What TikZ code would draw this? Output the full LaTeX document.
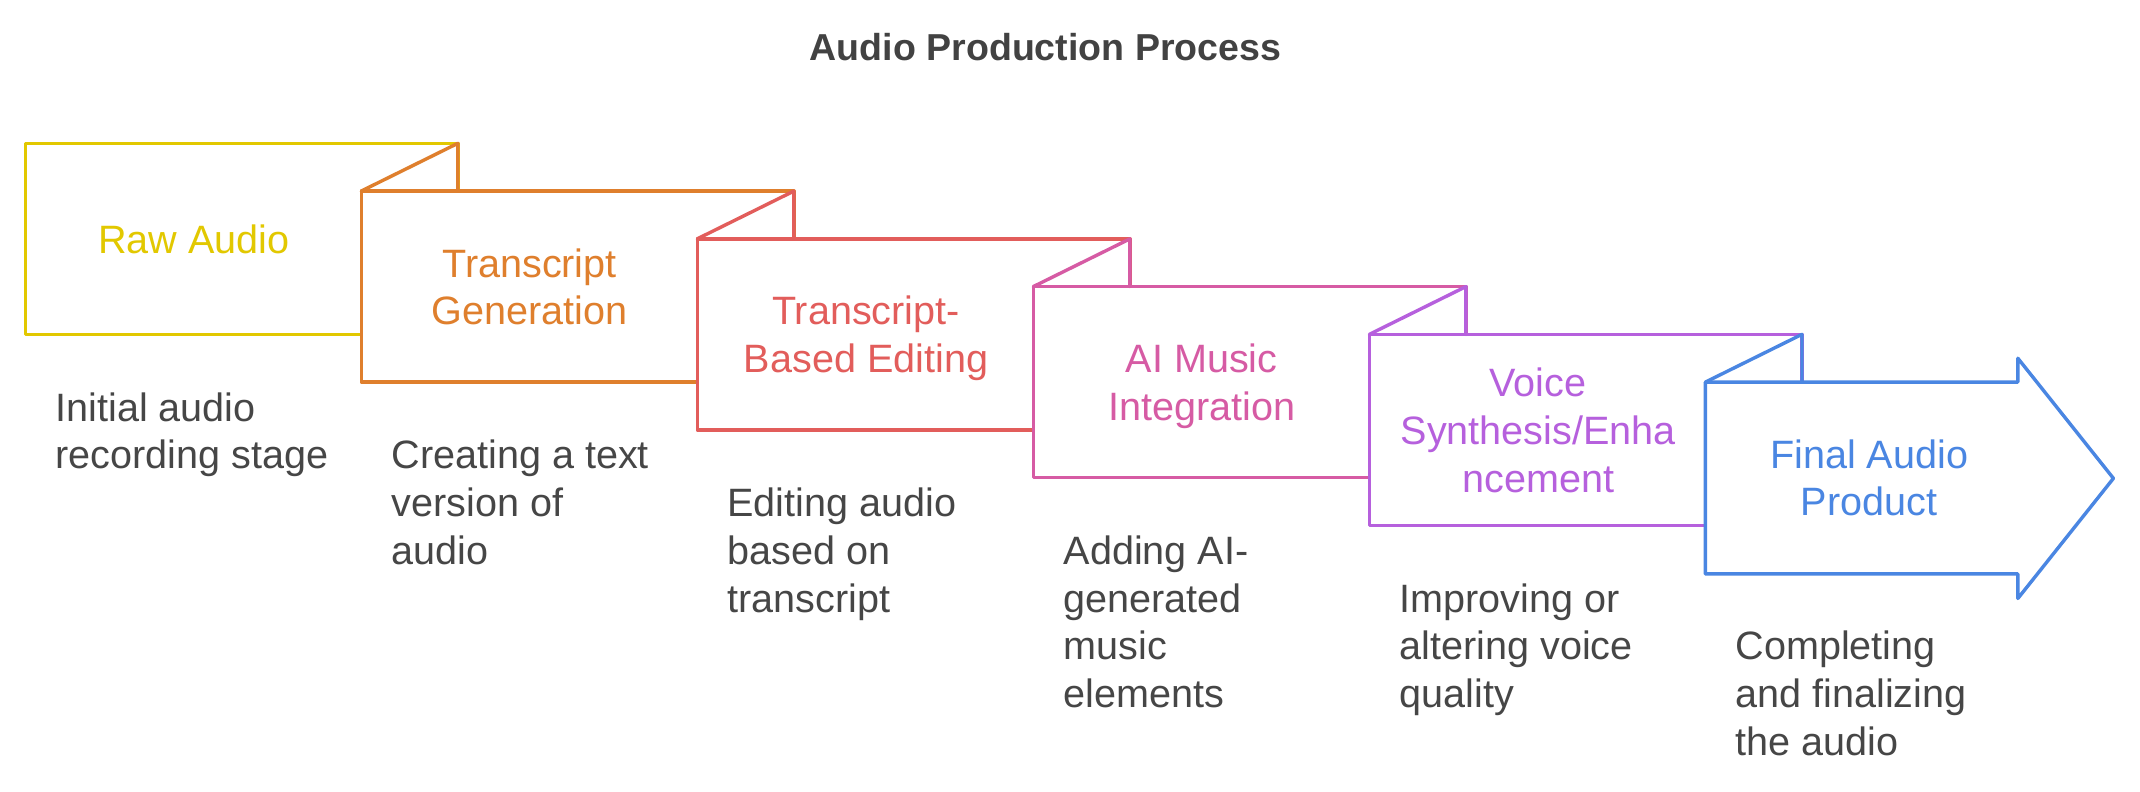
\documentclass[tikz,border=0pt]{standalone}
\usepackage{fontspec}
\setmainfont{Liberation Sans}
\definecolor{cyel}{HTML}{E2C800}
\definecolor{cora}{HTML}{DF7F2D}
\definecolor{cred}{HTML}{E25D5B}
\definecolor{cpnk}{HTML}{D65BA4}
\definecolor{cpur}{HTML}{B660DD}
\definecolor{cblu}{HTML}{4A86E2}
\definecolor{descgray}{HTML}{464646}
\definecolor{titlegray}{HTML}{424242}
\begin{document}
\begin{tikzpicture}[x=1pt,y=-1pt,
  box/.style={rectangle, line width=2.5pt, line join=round, fill=white, minimum width=317pt, minimum height=140pt, inner sep=0pt, outer sep=0pt, anchor=north west},
  fold/.style={line width=2.5pt, line join=round, line cap=round},
  lbl/.style={font=\fontsize{29}{35}\selectfont, inner sep=0pt, anchor=base},
  desc/.style={font=\fontsize{29}{35}\selectfont, text=descgray, inner sep=0pt, anchor=base west},
  ttl/.style={font=\fontsize{27.5}{33}\selectfont\bfseries, text=titlegray, inner sep=0pt, anchor=base}]
\useasboundingbox (0,0) rectangle (1568,580.3);

% title
\node[ttl] (title) at (766,44) {Audio Production Process};

% boxes
\node[box, draw=cyel] (b0) at (18.5,105) {};
\node[box, draw=cora] (b1) at (264.7,140) {};
\draw[fold, cora] (b1.north west) -- (b0.north east) -- (b0.north east |- b1.north);
\node[box, draw=cred] (b2) at (510.9,175) {};
\draw[fold, cred] (b2.north west) -- (b1.north east) -- (b1.north east |- b2.north);
\node[box, draw=cpnk] (b3) at (757.1,210) {};
\draw[fold, cpnk] (b3.north west) -- (b2.north east) -- (b2.north east |- b3.north);
\node[box, draw=cpur] (b4) at (1003.3,245) {};
\draw[fold, cpur] (b4.north west) -- (b3.north east) -- (b3.north east |- b4.north);

% final arrow
\coordinate (a0) at (1249.5,280);
\coordinate (a1) at (1478.5,280);
\coordinate (a2) at (1478.5,262.5);
\coordinate (a3) at (1548.5,350.5);
\coordinate (a4) at (1478.5,438.5);
\coordinate (a5) at (1478.5,420.5);
\coordinate (a6) at (1249.5,420.5);
\draw[fold, cblu, fill=white, line cap=butt] (a0) -- (a1) -- (a2) -- (a3) -- (a4) -- (a5) -- (a6) -- cycle;
\draw[fold, cblu] (a0) -- (b4.north east) -- (b4.north east |- a0);

% labels
\node[lbl, text=cyel] (l0) at (142,185.5) {Raw Audio};
\node[lbl, text=cora] (l1a) at (388,203) {Transcript};
\node[lbl, text=cora] (l1b) at (388,238) {Generation};
\node[lbl, text=cred] (l2a) at (634.5,238) {Transcript-};
\node[lbl, text=cred] (l2b) at (634.5,273) {Based Editing};
\node[lbl, text=cpnk] (l3a) at (880.5,273) {AI Music};
\node[lbl, text=cpnk] (l3b) at (880.5,308) {Integration};
\node[lbl, text=cpur] (l4a) at (1127,290.5) {Voice};
\node[lbl, text=cpur] (l4b) at (1127,325.5) {Synthesis/Enha};
\node[lbl, text=cpur] (l4c) at (1127,360.5) {ncement};
\node[lbl, text=cblu] (l5a) at (1369.5,343) {Final Audio};
\node[lbl, text=cblu] (l5b) at (1369.5,378) {Product};

% descriptions
\node[desc] (d0a) at (40.5,308.5) {Initial audio};
\node[desc] (d0b) at (40.5,343.5) {recording stage};
\node[desc] (d1a) at (286.7,343.5) {Creating a text};
\node[desc] (d1b) at (286.7,378.5) {version of};
\node[desc] (d1c) at (286.7,413.5) {audio};
\node[desc] (d2a) at (532.9,378.5) {Editing audio};
\node[desc] (d2b) at (532.9,413.5) {based on};
\node[desc] (d2c) at (532.9,448.5) {transcript};
\node[desc] (d3a) at (779.1,413.5) {Adding AI-};
\node[desc] (d3b) at (779.1,448.5) {generated};
\node[desc] (d3c) at (779.1,483.5) {music};
\node[desc] (d3d) at (779.1,518.5) {elements};
\node[desc] (d4a) at (1025.3,448.5) {Improving or};
\node[desc] (d4b) at (1025.3,483.5) {altering voice};
\node[desc] (d4c) at (1025.3,518.5) {quality};
\node[desc] (d5a) at (1271.5,483.5) {Completing};
\node[desc] (d5b) at (1271.5,518.5) {and finalizing};
\node[desc] (d5c) at (1271.5,553.5) {the audio};
\end{tikzpicture}
\end{document}
